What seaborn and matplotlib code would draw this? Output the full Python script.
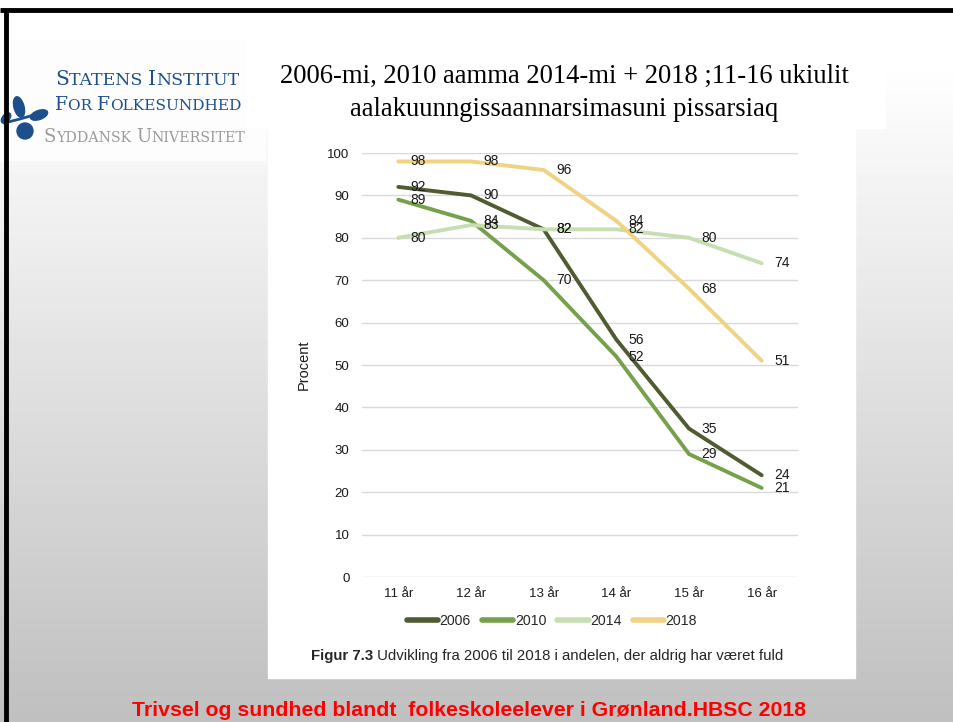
import numpy as np
import pandas as pd
import matplotlib
matplotlib.use("Agg")
import matplotlib.pyplot as plt
import seaborn as sns
from matplotlib.patches import Rectangle, Ellipse, Circle

# ------------------------------------------------------------------
# Data
# ------------------------------------------------------------------
alder = ["11 år", "12 år", "13 år", "14 år", "15 år", "16 år"]
aargange = ["2006", "2010", "2014", "2018"]
v2006 = [92, 90, 82, 56, 35, 24]
v2010 = [89, 84, 70, 52, 29, 21]
v2014 = [80, 83, 82, 82, 80, 74]
v2018 = [98, 98, 96, 84, 68, 51]
y_ticks = list(range(0, 101, 10))

farver = {"2006": "#4f5b30", "2010": "#76a14a", "2014": "#c7ddb2", "2018": "#f0d283"}

titel1 = "2006-mi, 2010 aamma 2014-mi + 2018 ;11-16 ukiulit"
titel2 = "aalakuunngissaannarsimasuni pissarsiaq"
figur_fed = "Figur 7.3"
figur_tekst = " Udvikling fra 2006 til 2018 i andelen, der aldrig har været fuld"
fodnote = "Trivsel og sundhed blandt  folkeskoleelever i Grønland.HBSC 2018"

rows = []
for aar, vals in zip(aargange, [v2006, v2010, v2014, v2018]):
    for a, v in zip(alder, vals):
        rows.append({"alder": a, "procent": v, "aar": aar})
df = pd.DataFrame(rows)

sns.set_theme(style="white")
plt.rcParams["font.family"] = ["Liberation Sans", "DejaVu Sans"]

W, H = 954, 722
fig = plt.figure(figsize=(W / 100, H / 100), dpi=100)

# baggrund (slide) i pixel-koordinater
bg = fig.add_axes([0, 0, 1, 1])
bg.set_xlim(0, W)
bg.set_ylim(H, 0)
bg.axis("off")
grad = np.ones((H, 1))
yy = np.arange(H)
grad[:, 0] = np.clip(1 - (yy - 60) / (H - 60) * 0.25, 0.75, 1.0)
bg.imshow(grad, cmap="gray", vmin=0, vmax=1, extent=(0, W, H, 0), aspect="auto", zorder=0)

bg.add_patch(Rectangle((0, 40), 265, 120, color="#fdfdfd", zorder=1))
bg.add_patch(Rectangle((245, 40), 640, 88, color="white", zorder=1))
bg.add_patch(Rectangle((268, 125), 587, 553, color="white", zorder=1))

# ramme
bg.plot([0, W], [10, 10], color="black", lw=3.5, zorder=5, solid_capstyle="butt")
bg.plot([6, 6], [10, H], color="black", lw=3.5, zorder=5, solid_capstyle="butt")

# titel
bg.text(564, 76, titel1, family="Liberation Serif", fontsize=19.2, color="black",
        ha="center", va="center", zorder=3)
bg.text(564, 109, titel2, family="Liberation Serif", fontsize=19.2, color="black",
        ha="center", va="center", zorder=3)

# logo (small caps)
def small_caps(x, y, tekst, color, big, small):
    prev = None
    ord_liste = tekst.split(" ")
    for w_i, word in enumerate(ord_liste):
        rest = word[1:] + (" " if w_i < len(ord_liste) - 1 else "")
        for txt, fs in [(word[0], big), (rest, small)]:
            if prev is None:
                prev = bg.text(x, y, txt, family="DejaVu Serif", fontsize=fs, color=color,
                               ha="left", va="baseline", zorder=3)
            else:
                prev = bg.annotate(txt, xy=(1, y), xycoords=(prev, bg.transData), family="DejaVu Serif",
                                   fontsize=fs, color=color, ha="left", va="baseline", zorder=3,
                                   annotation_clip=False)

small_caps(55, 85, "STATENS INSTITUT", "#1d4f8c", 14.5, 12.5)
small_caps(55, 110, "FOR FOLKESUNDHED", "#1d4f8c", 13.5, 11.1)
small_caps(44, 142, "SYDDANSK UNIVERSITET", "#9a9a9a", 13, 10.2)

bl = "#1d4f8c"
bg.plot([4, 20, 44], [123, 119, 112], color=bl, lw=2, zorder=3)
bg.add_patch(Ellipse((19, 107), 10, 21, angle=-15, color=bl, zorder=3))
bg.add_patch(Ellipse((39, 115), 18, 9, angle=-20, color=bl, zorder=3))
bg.add_patch(Circle((25, 131), 8, color=bl, zorder=3))
bg.add_patch(Ellipse((6, 118), 7, 12, angle=40, color=bl, zorder=3))

# ------------------------------------------------------------------
# Diagram
# ------------------------------------------------------------------
ax = fig.add_axes([362 / W, 1 - 577 / H, (798 - 362) / W, (577 - 153) / H])
ax.set_facecolor("none")
sns.lineplot(data=df, x="alder", y="procent", hue="aar", palette=farver, sort=False,
             linewidth=2.8, ax=ax, legend=True, clip_on=False)

for aar, vals in zip(aargange, [v2006, v2010, v2014, v2018]):
    for i, v in enumerate(vals):
        ax.annotate(str(v), (i, v), xytext=(9, 0), textcoords="offset points",
                    va="center", ha="left", fontsize=10, color="#1a1a1a", zorder=5)

ax.set_xlim(-0.5, 5.5)
ax.set_ylim(0, 100)
ax.set_yticks(y_ticks)
ax.set_xticks(range(len(alder)))
ax.set_xticklabels(alder)
ax.tick_params(axis="both", length=0, labelsize=9.5, colors="#1a1a1a")
ax.tick_params(axis="y", pad=9)
ax.tick_params(axis="x", pad=8)
ax.yaxis.grid(True, color="#d9d9d9", lw=1)
ax.xaxis.grid(False)
sns.despine(ax=ax, left=True, bottom=True)
ax.set_xlabel("")
ax.set_ylabel("Procent", fontsize=10.5, color="#1a1a1a", labelpad=12)

handles, labels = ax.get_legend_handles_labels()
ax.get_legend().remove()
for h in handles:
    h.set_linewidth(4)
    h.set_solid_capstyle("round")
fig.legend(handles, labels, loc="center", bbox_to_anchor=(552 / W, 1 - 621 / H), ncol=4,
           frameon=False, fontsize=10.2, handlelength=2.2, handletextpad=0.1, columnspacing=0.8)

# figurtekst
t1 = bg.text(311, 656, figur_fed, fontsize=10.8, fontweight="bold", ha="left", va="center", zorder=3)
bg.annotate(figur_tekst, xy=(1, 0.5), xycoords=t1, fontsize=10.8, ha="left", va="center", zorder=3)

# fodnote
bg.text(469, 710, fodnote, fontsize=15.3, fontweight="bold", color="#ff0000",
        ha="center", va="center", zorder=3)

fig.savefig("out.png", dpi=100)
